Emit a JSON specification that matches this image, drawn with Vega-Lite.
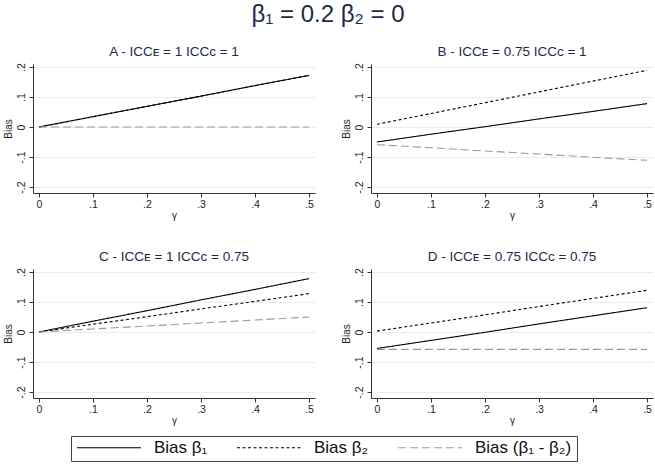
{
  "$schema": "https://vega.github.io/schema/vega-lite/v6.json",
  "background": "white",
  "padding": {"left": 3, "top": 3, "right": 5, "bottom": 5},
  "title": {"text": "β₁ = 0.2 β₂ = 0", "fontSize": 24, "font": "Liberation Sans", "fontWeight": "normal", "color": "#1c2b4a", "anchor": "middle", "offset": 18},
  "data": {"values": [
    {"panel": "A - ICCᴇ = 1 ICCᴄ = 1", "series": "Bias β₂", "gamma": 0, "bias": 0},
    {"panel": "A - ICCᴇ = 1 ICCᴄ = 1", "series": "Bias β₂", "gamma": 0.1, "bias": 0.0344},
    {"panel": "A - ICCᴇ = 1 ICCᴄ = 1", "series": "Bias β₂", "gamma": 0.2, "bias": 0.0688},
    {"panel": "A - ICCᴇ = 1 ICCᴄ = 1", "series": "Bias β₂", "gamma": 0.3, "bias": 0.103},
    {"panel": "A - ICCᴇ = 1 ICCᴄ = 1", "series": "Bias β₂", "gamma": 0.4, "bias": 0.138},
    {"panel": "A - ICCᴇ = 1 ICCᴄ = 1", "series": "Bias β₂", "gamma": 0.5, "bias": 0.172},
    {"panel": "A - ICCᴇ = 1 ICCᴄ = 1", "series": "Bias β₁", "gamma": 0, "bias": 0},
    {"panel": "A - ICCᴇ = 1 ICCᴄ = 1", "series": "Bias β₁", "gamma": 0.1, "bias": 0.0344},
    {"panel": "A - ICCᴇ = 1 ICCᴄ = 1", "series": "Bias β₁", "gamma": 0.2, "bias": 0.0688},
    {"panel": "A - ICCᴇ = 1 ICCᴄ = 1", "series": "Bias β₁", "gamma": 0.3, "bias": 0.103},
    {"panel": "A - ICCᴇ = 1 ICCᴄ = 1", "series": "Bias β₁", "gamma": 0.4, "bias": 0.138},
    {"panel": "A - ICCᴇ = 1 ICCᴄ = 1", "series": "Bias β₁", "gamma": 0.5, "bias": 0.172},
    {"panel": "A - ICCᴇ = 1 ICCᴄ = 1", "series": "Bias (β₁ - β₂)", "gamma": 0, "bias": 0},
    {"panel": "A - ICCᴇ = 1 ICCᴄ = 1", "series": "Bias (β₁ - β₂)", "gamma": 0.1, "bias": 0},
    {"panel": "A - ICCᴇ = 1 ICCᴄ = 1", "series": "Bias (β₁ - β₂)", "gamma": 0.2, "bias": 0},
    {"panel": "A - ICCᴇ = 1 ICCᴄ = 1", "series": "Bias (β₁ - β₂)", "gamma": 0.3, "bias": 0},
    {"panel": "A - ICCᴇ = 1 ICCᴄ = 1", "series": "Bias (β₁ - β₂)", "gamma": 0.4, "bias": 0},
    {"panel": "A - ICCᴇ = 1 ICCᴄ = 1", "series": "Bias (β₁ - β₂)", "gamma": 0.5, "bias": 0},

    {"panel": "B - ICCᴇ = 0.75 ICCᴄ = 1", "series": "Bias β₁", "gamma": 0, "bias": -0.05},
    {"panel": "B - ICCᴇ = 0.75 ICCᴄ = 1", "series": "Bias β₁", "gamma": 0.1, "bias": -0.024},
    {"panel": "B - ICCᴇ = 0.75 ICCᴄ = 1", "series": "Bias β₁", "gamma": 0.2, "bias": 0.001},
    {"panel": "B - ICCᴇ = 0.75 ICCᴄ = 1", "series": "Bias β₁", "gamma": 0.3, "bias": 0.027},
    {"panel": "B - ICCᴇ = 0.75 ICCᴄ = 1", "series": "Bias β₁", "gamma": 0.4, "bias": 0.052},
    {"panel": "B - ICCᴇ = 0.75 ICCᴄ = 1", "series": "Bias β₁", "gamma": 0.5, "bias": 0.078},
    {"panel": "B - ICCᴇ = 0.75 ICCᴄ = 1", "series": "Bias β₂", "gamma": 0, "bias": 0.009},
    {"panel": "B - ICCᴇ = 0.75 ICCᴄ = 1", "series": "Bias β₂", "gamma": 0.1, "bias": 0.045},
    {"panel": "B - ICCᴇ = 0.75 ICCᴄ = 1", "series": "Bias β₂", "gamma": 0.2, "bias": 0.081},
    {"panel": "B - ICCᴇ = 0.75 ICCᴄ = 1", "series": "Bias β₂", "gamma": 0.3, "bias": 0.117},
    {"panel": "B - ICCᴇ = 0.75 ICCᴄ = 1", "series": "Bias β₂", "gamma": 0.4, "bias": 0.153},
    {"panel": "B - ICCᴇ = 0.75 ICCᴄ = 1", "series": "Bias β₂", "gamma": 0.5, "bias": 0.189},
    {"panel": "B - ICCᴇ = 0.75 ICCᴄ = 1", "series": "Bias (β₁ - β₂)", "gamma": 0, "bias": -0.059},
    {"panel": "B - ICCᴇ = 0.75 ICCᴄ = 1", "series": "Bias (β₁ - β₂)", "gamma": 0.1, "bias": -0.069},
    {"panel": "B - ICCᴇ = 0.75 ICCᴄ = 1", "series": "Bias (β₁ - β₂)", "gamma": 0.2, "bias": -0.08},
    {"panel": "B - ICCᴇ = 0.75 ICCᴄ = 1", "series": "Bias (β₁ - β₂)", "gamma": 0.3, "bias": -0.09},
    {"panel": "B - ICCᴇ = 0.75 ICCᴄ = 1", "series": "Bias (β₁ - β₂)", "gamma": 0.4, "bias": -0.101},
    {"panel": "B - ICCᴇ = 0.75 ICCᴄ = 1", "series": "Bias (β₁ - β₂)", "gamma": 0.5, "bias": -0.111},

    {"panel": "C - ICCᴇ = 1 ICCᴄ = 0.75", "series": "Bias β₁", "gamma": 0, "bias": 0},
    {"panel": "C - ICCᴇ = 1 ICCᴄ = 0.75", "series": "Bias β₁", "gamma": 0.1, "bias": 0.036},
    {"panel": "C - ICCᴇ = 1 ICCᴄ = 0.75", "series": "Bias β₁", "gamma": 0.2, "bias": 0.071},
    {"panel": "C - ICCᴇ = 1 ICCᴄ = 0.75", "series": "Bias β₁", "gamma": 0.3, "bias": 0.107},
    {"panel": "C - ICCᴇ = 1 ICCᴄ = 0.75", "series": "Bias β₁", "gamma": 0.4, "bias": 0.142},
    {"panel": "C - ICCᴇ = 1 ICCᴄ = 0.75", "series": "Bias β₁", "gamma": 0.5, "bias": 0.178},
    {"panel": "C - ICCᴇ = 1 ICCᴄ = 0.75", "series": "Bias β₂", "gamma": 0, "bias": 0},
    {"panel": "C - ICCᴇ = 1 ICCᴄ = 0.75", "series": "Bias β₂", "gamma": 0.1, "bias": 0.026},
    {"panel": "C - ICCᴇ = 1 ICCᴄ = 0.75", "series": "Bias β₂", "gamma": 0.2, "bias": 0.051},
    {"panel": "C - ICCᴇ = 1 ICCᴄ = 0.75", "series": "Bias β₂", "gamma": 0.3, "bias": 0.077},
    {"panel": "C - ICCᴇ = 1 ICCᴄ = 0.75", "series": "Bias β₂", "gamma": 0.4, "bias": 0.102},
    {"panel": "C - ICCᴇ = 1 ICCᴄ = 0.75", "series": "Bias β₂", "gamma": 0.5, "bias": 0.128},
    {"panel": "C - ICCᴇ = 1 ICCᴄ = 0.75", "series": "Bias (β₁ - β₂)", "gamma": 0, "bias": 0},
    {"panel": "C - ICCᴇ = 1 ICCᴄ = 0.75", "series": "Bias (β₁ - β₂)", "gamma": 0.1, "bias": 0.01},
    {"panel": "C - ICCᴇ = 1 ICCᴄ = 0.75", "series": "Bias (β₁ - β₂)", "gamma": 0.2, "bias": 0.02},
    {"panel": "C - ICCᴇ = 1 ICCᴄ = 0.75", "series": "Bias (β₁ - β₂)", "gamma": 0.3, "bias": 0.03},
    {"panel": "C - ICCᴇ = 1 ICCᴄ = 0.75", "series": "Bias (β₁ - β₂)", "gamma": 0.4, "bias": 0.04},
    {"panel": "C - ICCᴇ = 1 ICCᴄ = 0.75", "series": "Bias (β₁ - β₂)", "gamma": 0.5, "bias": 0.05},

    {"panel": "D - ICCᴇ = 0.75 ICCᴄ = 0.75", "series": "Bias β₁", "gamma": 0, "bias": -0.055},
    {"panel": "D - ICCᴇ = 0.75 ICCᴄ = 0.75", "series": "Bias β₁", "gamma": 0.1, "bias": -0.028},
    {"panel": "D - ICCᴇ = 0.75 ICCᴄ = 0.75", "series": "Bias β₁", "gamma": 0.2, "bias": -0.001},
    {"panel": "D - ICCᴇ = 0.75 ICCᴄ = 0.75", "series": "Bias β₁", "gamma": 0.3, "bias": 0.027},
    {"panel": "D - ICCᴇ = 0.75 ICCᴄ = 0.75", "series": "Bias β₁", "gamma": 0.4, "bias": 0.054},
    {"panel": "D - ICCᴇ = 0.75 ICCᴄ = 0.75", "series": "Bias β₁", "gamma": 0.5, "bias": 0.081},
    {"panel": "D - ICCᴇ = 0.75 ICCᴄ = 0.75", "series": "Bias β₂", "gamma": 0, "bias": 0.003},
    {"panel": "D - ICCᴇ = 0.75 ICCᴄ = 0.75", "series": "Bias β₂", "gamma": 0.1, "bias": 0.03},
    {"panel": "D - ICCᴇ = 0.75 ICCᴄ = 0.75", "series": "Bias β₂", "gamma": 0.2, "bias": 0.057},
    {"panel": "D - ICCᴇ = 0.75 ICCᴄ = 0.75", "series": "Bias β₂", "gamma": 0.3, "bias": 0.085},
    {"panel": "D - ICCᴇ = 0.75 ICCᴄ = 0.75", "series": "Bias β₂", "gamma": 0.4, "bias": 0.112},
    {"panel": "D - ICCᴇ = 0.75 ICCᴄ = 0.75", "series": "Bias β₂", "gamma": 0.5, "bias": 0.139},
    {"panel": "D - ICCᴇ = 0.75 ICCᴄ = 0.75", "series": "Bias (β₁ - β₂)", "gamma": 0, "bias": -0.058},
    {"panel": "D - ICCᴇ = 0.75 ICCᴄ = 0.75", "series": "Bias (β₁ - β₂)", "gamma": 0.1, "bias": -0.058},
    {"panel": "D - ICCᴇ = 0.75 ICCᴄ = 0.75", "series": "Bias (β₁ - β₂)", "gamma": 0.2, "bias": -0.058},
    {"panel": "D - ICCᴇ = 0.75 ICCᴄ = 0.75", "series": "Bias (β₁ - β₂)", "gamma": 0.3, "bias": -0.058},
    {"panel": "D - ICCᴇ = 0.75 ICCᴄ = 0.75", "series": "Bias (β₁ - β₂)", "gamma": 0.4, "bias": -0.058},
    {"panel": "D - ICCᴇ = 0.75 ICCᴄ = 0.75", "series": "Bias (β₁ - β₂)", "gamma": 0.5, "bias": -0.058}
  ]},
  "facet": {"field": "panel", "type": "nominal", "header": {"title": null, "labelFontSize": 13.5, "labelFont": "Liberation Sans", "labelColor": "#1c2b4a", "labelPadding": 4}},
  "columns": 2,
  "spacing": {"row": 29, "column": 26},
  "spec": {
    "width": 282,
    "height": 129,
    "mark": {"type": "line", "strokeWidth": 1.1, "clip": true},
    "encoding": {
      "x": {"field": "gamma", "type": "quantitative",
        "scale": {"domain": [-0.011, 0.511], "nice": false, "zero": false},
        "axis": {"title": "γ", "values": [0, 0.1, 0.2, 0.3, 0.4, 0.5], "grid": false,
          "labelExpr": "datum.value == 0 ? '0' : '.' + round(datum.value * 10)",
          "titleFontSize": 10, "titleFontWeight": "normal", "titlePadding": 1, "labelFontSize": 10.5, "labelPadding": 2}},
      "y": {"field": "bias", "type": "quantitative",
        "scale": {"domain": [-0.22, 0.21], "nice": false, "zero": false},
        "axis": {"title": "Bias", "values": [-0.2, -0.1, 0, 0.1, 0.2], "grid": true,
          "labelExpr": "datum.value == 0 ? '0' : (datum.value < 0 ? '-' : '') + '.' + round(abs(datum.value) * 10)",
          "labelAngle": -90, "labelAlign": "center", "labelBaseline": "bottom",
          "titleFontSize": 10, "titleFontWeight": "normal", "titlePadding": 3, "labelFontSize": 10.5, "labelPadding": 3}},
      "color": {"field": "series", "type": "nominal",
        "scale": {"domain": ["Bias β₁", "Bias β₂", "Bias (β₁ - β₂)"], "range": ["#000000", "#000000", "#9a9a9a"]},
        "legend": {"title": null}},
      "strokeDash": {"field": "series", "type": "nominal",
        "scale": {"domain": ["Bias β₁", "Bias β₂", "Bias (β₁ - β₂)"], "range": [[1, 0], [3, 2.5], [8, 4]]},
        "legend": {"title": null}}
    }
  },
  "resolve": {"axis": {"x": "independent", "y": "independent"}},
  "config": {
    "view": {"stroke": null},
    "font": "Liberation Sans",
    "axis": {"domainColor": "#333333", "tickColor": "#333333", "tickSize": 4, "labelColor": "#222222", "titleColor": "#222222", "gridColor": "#e6eef0", "labelFont": "Liberation Sans", "titleFont": "Liberation Sans"},
    "legend": {"orient": "none", "legendX": 38, "legendY": 372, "direction": "horizontal", "strokeColor": "#444444", "padding": 5, "clipHeight": 13, "symbolType": "stroke", "symbolSize": 4096, "symbolStrokeWidth": 1.1, "labelFontSize": 17, "labelFont": "Liberation Sans", "labelColor": "#111111", "labelOffset": 12, "columnPadding": 28}
  }
}
